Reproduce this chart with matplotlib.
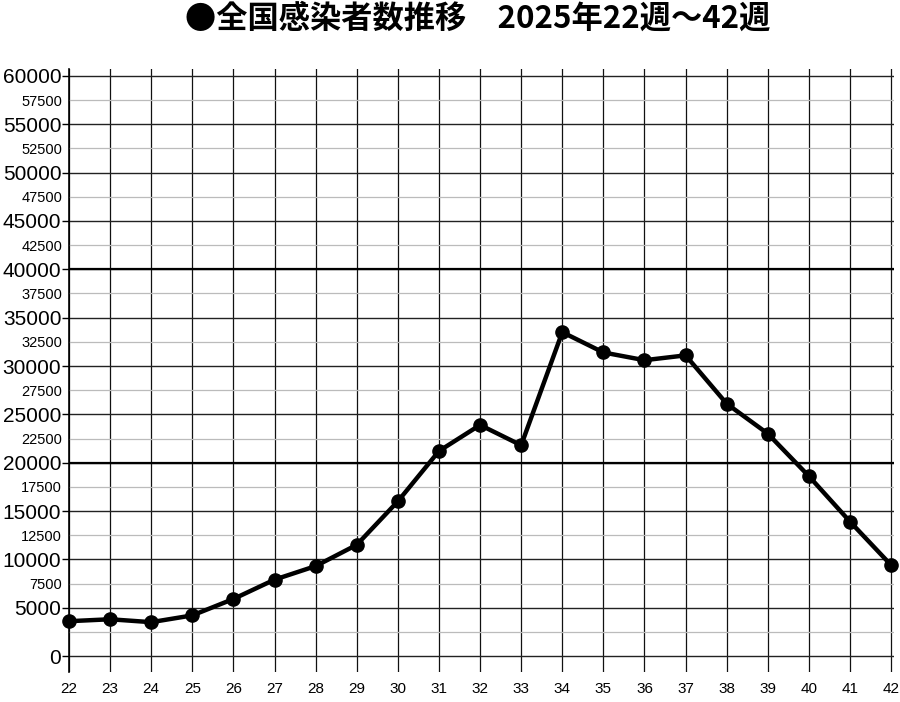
import matplotlib
matplotlib.use("Agg")
import matplotlib.pyplot as plt
from matplotlib.ticker import MultipleLocator, FuncFormatter

# weekly nationwide cases, week 22 to 42 of 2025
weeks = [22, 23, 24, 25, 26, 27, 28, 29, 30, 31, 32, 33, 34, 35, 36, 37, 38, 39, 40, 41, 42]
cases = [3600, 3800, 3500, 4200, 5900, 7900, 9300, 11500, 16000, 21200, 23900, 21800,
         33500, 31400, 30600, 31100, 26100, 23000, 18600, 13900, 9400]
title = "●全国感染者数推移　2025年22週～42週"

num_font = ["Liberation Sans", "DejaVu Sans"]

fig = plt.figure(figsize=(9, 7.02), dpi=100)
ax = fig.add_axes([69 / 900, 1 - 672 / 702, (894 - 69) / 900, (672 - 69) / 702])

ax.set_xlim(22, 42.07)
ax.set_ylim(-1655, 60724)

ax.xaxis.set_major_locator(MultipleLocator(1))
ax.yaxis.set_major_locator(MultipleLocator(5000))
ax.yaxis.set_minor_locator(MultipleLocator(2500))
# the 2500 line has no label in the original
ax.yaxis.set_minor_formatter(FuncFormatter(lambda v, p: "" if v < 5000 else "%d" % v))

ax.grid(True, axis="x", color="#111111", linewidth=0.9)
ax.grid(True, axis="y", which="major", color="#222222", linewidth=1.0)
ax.grid(True, axis="y", which="minor", color="#bbbbbb", linewidth=0.9)
for y in (20000, 40000):
    ax.axhline(y, color="black", linewidth=1.6)

for s in ("top", "right", "bottom"):
    ax.spines[s].set_visible(False)
ax.spines["left"].set_linewidth(1.2)

ax.tick_params(axis="x", length=0, pad=7)
ax.tick_params(axis="y", which="major", length=5, width=1.0, pad=0.5)
ax.tick_params(axis="y", which="minor", length=0, pad=5)

for lab in ax.get_xticklabels():
    lab.set_fontfamily(num_font)
    lab.set_fontsize(11)
for lab in ax.get_yticklabels():
    lab.set_fontfamily(num_font)
    lab.set_fontsize(15)
for lab in ax.get_yticklabels(minor=True):
    lab.set_fontfamily(num_font)
    lab.set_fontsize(10.5)

ax.plot(weeks, cases, color="black", linewidth=3.2, marker="o", markersize=9.5,
        clip_on=False, zorder=5)

fig.text(0.531, 0.974, title, ha="center", va="center", fontsize=22.5,
         fontweight="bold", family=["Noto Sans CJK JP", "DejaVu Sans"])

fig.savefig("out.png", dpi=100, facecolor="white")
